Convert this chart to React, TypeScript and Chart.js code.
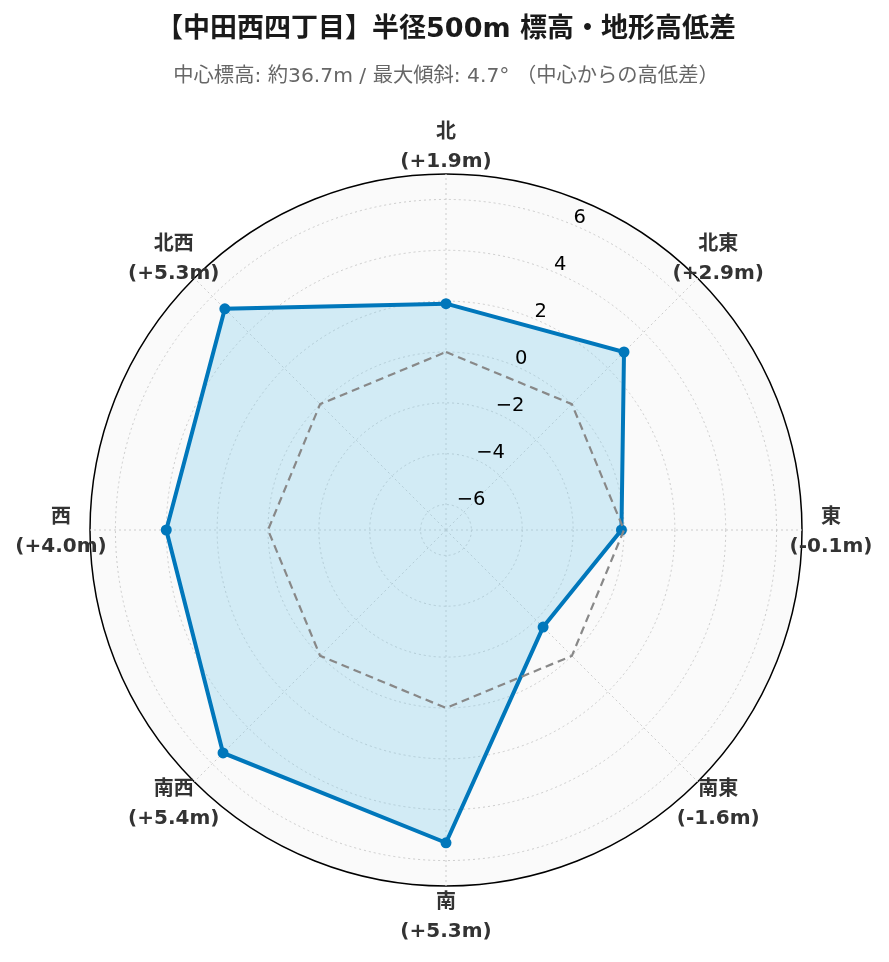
import React, { useEffect, useRef } from 'react';
import { Chart, registerables } from 'chart.js';

Chart.register(...registerables);

// ---- data ----
const categories = ['北', '北東', '東', '南東', '南', '南西', '西', '北西'];
const elevationDiff = [1.9, 2.9, -0.1, -1.6, 5.3, 5.4, 4.0, 5.3];
const zeroReference = [0, 0, 0, 0, 0, 0, 0, 0];
const tickValues = [-6, -4, -2, 0, 2, 4, 6];
const rMin = -7;
const rMax = 7;
const titleText = '【中田西四丁目】半径500m 標高・地形高低差';
const subtitleText = '中心標高: 約36.7m / 最大傾斜: 4.7° （中心からの高低差）';

const FONT = '"DejaVu Sans", "Noto Sans CJK JP", sans-serif';

const fmtTick = (v: number) => (v < 0 ? '\u2212' + Math.abs(v) : String(v));
const fmtDiff = (v: number) => `(${v >= 0 ? '+' : '-'}${Math.abs(v).toFixed(1)}m)`;

const bgPlugin = {
  id: 'polarBg',
  beforeDraw(chart: any) {
    const s = chart.scales.r;
    const ctx = chart.ctx;
    ctx.save();
    ctx.fillStyle = '#fafafa';
    ctx.beginPath();
    ctx.arc(s.xCenter, s.yCenter, s.drawingArea, 0, Math.PI * 2);
    ctx.fill();
    ctx.restore();
  },
};

const labelsPlugin = {
  id: 'polarLabels',
  afterDatasetsDraw(chart: any) {
    const s = chart.scales.r;
    const ctx = chart.ctx;
    ctx.save();
    const a = (22.5 * Math.PI) / 180;
    ctx.font = `19.5px ${FONT}`;
    ctx.fillStyle = '#000';
    ctx.textAlign = 'left';
    ctx.textBaseline = 'alphabetic';
    tickValues.forEach((v) => {
      const r = s.getDistanceFromCenterForValue(v);
      ctx.fillText(fmtTick(v), s.xCenter + r * Math.sin(a) + 1, s.yCenter - r * Math.cos(a) - 1.5);
    });
    ctx.font = `bold 20px ${FONT}`;
    ctx.fillStyle = '#333';
    ctx.textAlign = 'center';
    ctx.textBaseline = 'middle';
    categories.forEach((c, i) => {
      const p = s.getPointPosition(i, s.drawingArea + 29);
      ctx.fillText(c, p.x, p.y - 12.5);
      ctx.fillText(fmtDiff(elevationDiff[i]), p.x, p.y + 16.5);
    });
    ctx.restore();
  },
};

export default function App() {
  const ref = useRef<HTMLCanvasElement | null>(null);
  useEffect(() => {
    if (!ref.current) return;
    const chart = new Chart(ref.current, {
      type: 'radar',
      data: {
        labels: categories,
        datasets: [
          {
            label: '高低差',
            data: elevationDiff,
            order: 1,
            borderColor: '#0077bb',
            backgroundColor: 'rgba(135,206,235,0.35)',
            borderWidth: 4,
            fill: 'start',
            pointRadius: 5.5,
            pointBackgroundColor: '#0077bb',
            pointBorderColor: '#0077bb',
            pointBorderWidth: 0,
            tension: 0,
          },
          {
            label: '基準 (0m)',
            data: zeroReference,
            order: 0,
            borderColor: '#888888',
            borderWidth: 2.2,
            borderDash: [8, 5],
            fill: false,
            pointRadius: 0,
          },
        ],
      },
      options: {
        responsive: false,
        maintainAspectRatio: false,
        devicePixelRatio: 1,
        animation: false,
        layout: { padding: { left: 90, right: 87, top: 0, bottom: 76 } },
        plugins: {
          legend: { display: false },
          tooltip: { enabled: false },
          title: {
            display: true,
            text: titleText,
            color: '#1a1a1a',
            font: { family: FONT, size: 27, weight: 'bold', lineHeight: '32px' },
            padding: { top: 14, bottom: 0 },
          },
          subtitle: {
            display: true,
            text: subtitleText,
            color: '#666',
            font: { family: FONT, size: 20.3, weight: 'normal', lineHeight: '24px' },
            padding: { top: 19, bottom: 85 },
          },
        },
        scales: {
          r: {
            min: rMin,
            max: rMax,
            afterBuildTicks: (scale: any) => {
              scale.ticks = [rMin, ...tickValues, rMax].map((v) => ({ value: v }));
            },
            ticks: { display: false },
            pointLabels: { display: false },
            grid: {
              circular: true,
              color: (ctx: any) => (ctx.tick && ctx.tick.value === rMax ? '#000' : '#cccccc'),
              lineWidth: (ctx: any) => (ctx.tick && ctx.tick.value === rMax ? 1.5 : 1),
            },
            border: {
              dash: (ctx: any) => (ctx.tick && ctx.tick.value === rMax ? [] : [2, 3]),
            },
            angleLines: { display: true, color: '#cccccc', lineWidth: 1, borderDash: [2, 3] },
          },
        },
      },
      plugins: [bgPlugin, labelsPlugin],
    } as any);
    return () => chart.destroy();
  }, []);
  return (
    <div style={{ position: 'absolute', left: 0, top: 0, width: 889, height: 962, background: '#fff' }}>
      <canvas ref={ref} width={889} height={962} style={{ display: 'block' }} />
    </div>
  );
}
